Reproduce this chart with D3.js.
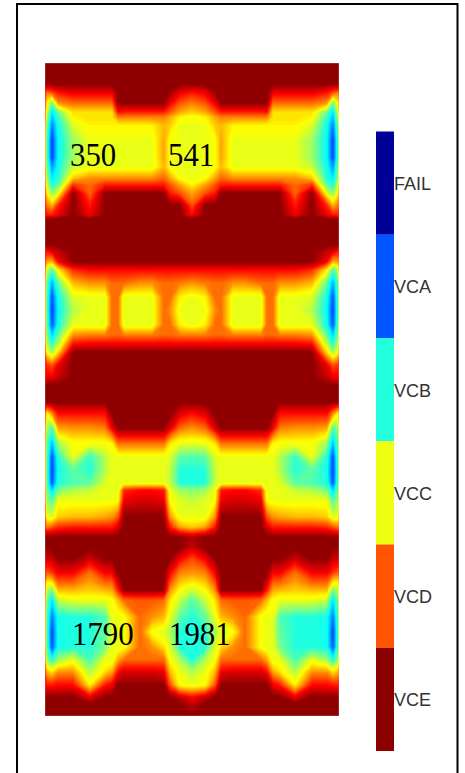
<!DOCTYPE html>
<html><head><meta charset="utf-8">
<style>html,body{margin:0;padding:0;background:#fff}svg{display:block}</style>
<script src="https://cdn.jsdelivr.net/npm/d3@7"></script></head>
<body><div id="chart"></div>
<script>
// Legend categories, top to bottom, and their colours
const categories = ["FAIL","VCA","VCB","VCC","VCD","VCE"];
const categoryColors = ["#000099","#0055ff","#22ffdd","#eeff11","#ff5500","#8b0000"];
// Measurement mesh coordinates
const meshX = [0,2,7,13,28,45,60,67,73,79,95,107,119,125,135,147,160,170,176,188,200,216,222,228,235,250,267,282,288,293,294];
const meshY = [0,21,30,40,49,54,62,77,94,104,115,122,130,142,152,156,182,189,199,207,220,234,247,262,272,280,289,302,314,322,339,350,365,380,394,407,420,427,437,454,464,474,484,495,509,520,527,537,554,569,584,597,609,622,634,641,653];
const labelMeshX = [25,123,27,124];
const labelMeshY = [103,103,582,582];
const labelText = ["350","541","1790","1981"];
// Grid rows on a 0-50 level scale (VCE=0, VCD=10, VCC=20, VCB=30, VCA=40, FAIL=50)
const r00=[0,0,0,0,0,0,0,0,0,0,0,0,0,0,0,0, 0,0,0,0,0,0,0,0,0,0,0,0,0,0,0];
const r01=[0,0,0,0,0,0,0,0,0,0,0,0,0,0,0,0, 0,0,0,0,0,0,0,0,0,0,0,0,0,0,0];
const r02=[5,12,10,7,5,5,5,5,0,0,0,0,0,1,5,7, 5,1,0,0,0,0,0,5,5,5,5,7,10,12,5];
const r03=[6,18,26,13,11,11,11,11,0,0,0,0,0,5,10,12, 10,5,0,0,0,0,0,11,11,11,11,13,26,18,6];
const r04=[7,21,33,26,17,17,17,17,6,7,7,7,7,10,14,16, 14,10,7,7,7,7,6,17,17,17,17,26,33,21,7];
const r05=[7,23,35,29,18,17,17,17,12,12,12,12,12,14,18,19, 18,14,12,12,12,12,12,17,17,17,18,29,35,23,7];
const r06=[7,26,38,31,21,18,18,18,18,18,18,18,15,16,20,20, 20,16,15,18,18,18,18,18,18,18,21,31,38,26,7];
const r07=[7,28,41,32,24,20,20,20,20,20,20,20,14,19,20,20, 20,19,14,20,20,20,20,20,20,20,24,32,41,28,7];
const r08=[7,28,41,32,24,20,20,20,20,20,20,20,14,19,20,20, 20,19,14,20,20,20,20,20,20,20,24,32,41,28,7];
const r09=[7,26,37,31,22,20,20,20,20,20,20,20,15,19,20,20, 20,19,15,20,20,20,20,20,20,20,22,31,37,26,7];
const r10=[7,24,33,30,16,13,13,13,13,13,13,13,11,14,19,20, 19,14,11,13,13,13,13,13,13,13,16,30,33,24,7];
const r11=[7,21,30,27,8,11,7,7,7,7,7,7,7,10,14,18, 14,10,7,7,7,7,7,7,7,11,8,27,30,21,7];
const r12=[6,18,25,20,0,11,0,0,0,0,0,0,0,7,10,14, 10,7,0,0,0,0,0,0,0,11,0,20,25,18,6];
const r13=[5,12,15,8,0,7,0,0,0,0,0,0,0,0,0,10, 0,0,0,0,0,0,0,0,0,7,0,8,15,12,5];
const r14=[4,7,7,5,0,5,0,0,0,0,0,0,0,0,0,6, 0,0,0,0,0,0,0,0,0,5,0,5,7,7,4];
const r15=[0,0,0,0,0,0,0,0,0,0,0,0,0,0,0,0, 0,0,0,0,0,0,0,0,0,0,0,0,0,0,0];
const r16=[0,0,0,0,0,0,0,0,0,0,0,0,0,0,0,0, 0,0,0,0,0,0,0,0,0,0,0,0,0,0,0];
const r17=[5,7,5,3,0,0,0,0,0,0,0,0,0,0,0,0, 0,0,0,0,0,0,0,0,0,0,0,3,5,7,5];
const r18=[6,14,15,6,0,0,0,0,0,0,0,0,0,0,0,0, 0,0,0,0,0,0,0,0,0,0,0,6,15,14,6];
const r19=[7,22,28,18,8,6,6,6,6,6,6,6,6,6,6,6, 6,6,6,6,6,6,6,6,6,6,8,18,28,22,7];
const r20=[7,27,36,27,15,13,13,11,11,11,13,13,11,11,12,13, 12,11,11,13,13,11,11,11,13,13,15,27,36,27,7];
const r21=[7,28,40,31,21,20,20,11,11,20,20,20,11,11,18,20, 18,11,11,20,20,20,11,11,20,20,21,31,40,28,7];
const r22=[7,28,41,32,23,20,20,11,11,20,20,20,11,13,20,20, 20,13,11,20,20,20,11,11,20,20,23,32,41,28,7];
const r23=[7,27,40,31,20,20,20,11,11,20,20,20,11,11,18,20, 18,11,11,20,20,20,11,11,20,20,20,31,40,27,7];
const r24=[7,25,34,27,13,12,12,11,11,12,12,12,11,11,12,12, 12,11,11,12,12,12,11,11,12,12,13,27,34,25,7];
const r25=[7,23,30,23,7,6,6,6,6,6,6,6,6,6,6,6, 6,6,6,6,6,6,6,6,6,6,7,23,30,23,7];
const r26=[7,19,24,17,0,0,0,0,0,0,0,0,0,0,0,0, 0,0,0,0,0,0,0,0,0,0,0,17,24,19,7];
const r27=[6,8,10,5,0,0,0,0,0,0,0,0,0,0,0,0, 0,0,0,0,0,0,0,0,0,0,0,5,10,8,6];
const r28=[5,5,5,3,0,0,0,0,0,0,0,0,0,0,0,0, 0,0,0,0,0,0,0,0,0,0,0,3,5,5,5];
const r29=[0,0,0,0,0,0,0,0,0,0,0,0,0,0,0,0, 0,0,0,0,0,0,0,0,0,0,0,0,0,0,0];
const r30=[0,0,0,0,0,0,0,0,0,0,0,0,0,0,0,0, 0,0,0,0,0,0,0,0,0,0,0,0,0,0,0];
const r31=[7,18,12,6,6,6,6,0,0,0,0,0,0,0,4,6, 4,0,0,0,0,0,0,0,6,6,6,6,12,18,7];
const r32=[7,24,28,14,13,13,12,5,0,0,0,0,0,4,11,13, 11,4,0,0,0,0,0,5,12,13,13,14,28,24,7];
const r33=[7,27,35,24,19,19,19,18,11,11,11,11,11,17,20,20, 20,17,11,11,11,11,11,18,19,19,19,24,35,27,7];
const r34=[7,28,40,30,20,29,23,20,20,20,20,20,20,21,27,28, 27,21,20,20,20,20,20,20,23,29,20,30,40,28,7];
const r35=[7,28,41,31,27,30,23,20,20,20,20,20,20,22,30,30, 30,22,20,20,20,20,20,20,23,30,27,31,41,28,7];
const r36=[7,28,40,30,28,27,21,20,20,20,20,20,20,22,30,30, 30,22,20,20,20,20,20,20,21,27,28,30,40,28,7];
const r37=[7,26,34,26,23,22,20,20,20,8,6,6,7,20,24,25, 24,20,7,6,6,8,20,20,20,22,23,26,34,26,7];
const r38=[7,24,28,20,20,20,20,20,19,5,4,4,5,19,21,22, 21,19,5,4,4,5,19,20,20,20,20,20,28,24,7];
const r39=[7,20,21,16,15,15,14,13,10,0,0,0,0,13,20,20, 20,13,0,0,0,0,10,13,14,15,15,16,21,20,7];
const r40=[6,12,10,8,7,7,7,7,4,0,0,0,0,7,14,16, 14,7,0,0,0,0,4,7,7,7,7,8,10,12,6];
const r41=[0,0,0,0,0,0,0,0,0,0,0,0,0,0,0,2, 0,0,0,0,0,0,0,0,0,0,0,0,0,0,0];
const r42=[0,0,0,0,0,0,0,0,0,0,0,0,0,0,0,3, 0,0,0,0,0,0,0,0,0,0,0,0,0,0,0];
const r43=[3,3,3,0,0,3,0,0,0,0,0,0,0,0,5,9, 5,0,0,0,0,0,0,0,0,3,0,0,3,3,3];
const r44=[6,10,8,5,5,11,5,5,0,0,0,0,0,5,12,13, 12,5,0,0,0,0,0,5,5,11,5,5,8,10,6];
const r45=[7,19,18,11,11,14,11,11,4,0,0,0,0,10,16,18, 16,10,0,0,0,0,4,11,11,14,11,11,18,19,7];
const r46=[7,22,26,15,15,16,15,14,7,0,0,0,0,13,19,22, 19,13,0,0,0,0,7,14,15,16,15,15,26,22,7];
const r47=[7,26,33,22,20,20,20,19,15,11,10,10,11,17,22,27, 22,17,11,10,10,11,15,19,20,20,20,22,33,26,7];
const r48=[7,28,38,31,30,30,28,20,20,19,11,13,15,20,27,30, 27,20,15,13,11,19,20,20,28,30,30,31,38,28,7];
const r49=[7,28,41,31,30,30,27,21,20,19,11,19,21,23,30,30, 30,23,21,19,11,19,20,21,27,30,30,31,41,28,7];
const r50=[7,28,40,31,30,30,26,20,20,19,11,13,17,21,30,30, 30,21,17,13,11,19,20,20,26,30,30,31,40,28,7];
const r51=[7,24,30,24,20,28,20,20,14,11,11,11,11,19,23,30, 23,19,11,11,11,11,14,20,20,28,20,24,30,24,7];
const r52=[6,15,17,13,13,23,17,14,6,4,4,4,5,15,20,23, 20,15,5,4,4,4,6,14,17,23,13,13,17,15,6];
const r53=[5,7,7,6,6,18,7,5,0,0,0,0,0,10,19,20, 19,10,0,0,0,0,0,5,7,18,6,6,7,7,5];
const r54=[0,0,0,0,0,5,0,0,0,0,0,0,0,0,3,6, 3,0,0,0,0,0,0,0,0,5,0,0,0,0,0];
const r55=[0,0,0,0,0,0,0,0,0,0,0,0,0,0,0,3, 0,0,0,0,0,0,0,0,0,0,0,0,0,0,0];
const r56=[0,0,0,0,0,0,0,0,0,0,0,0,0,0,0,0, 0,0,0,0,0,0,0,0,0,0,0,0,0,0,0];
const rows=[r00,r01,r02,r03,r04,r05,r06,r07,r08,r09,r10,r11,r12,r13,r14,r15,r16,r17,r18,r19,r20,r21,r22,r23,r24,r25,r26,r27,r28,r29,r30,r31,r32,r33,r34,r35,r36,r37,r38,r39,r40,r41,r42,r43,r44,r45,r46,r47,r48,r49,r50,r51,r52,r53,r54,r55,r56];

const W=465,H=773;
const plot={l:45,r:339,t:63,b:716};
const x=d3.scaleLinear().domain([0,294]).range([plot.l,plot.r]);
const y=d3.scaleLinear().domain([0,653]).range([plot.t,plot.b]);
// jet-like colour ramp through the six category colours
const color=d3.scaleLinear()
  .domain([0,5.8,10,18.5,20,30,32,40,44,50])
  .range(["#8b0000","#ff0000","#ff5500","#ffff00","#eeff11","#22ffdd","#00ffff","#0055ff","#0000ff","#000099"])
  .interpolate(d3.interpolateRgb).clamp(true);

const svg=d3.select("#chart").append("svg").attr("width",W).attr("height",H);
// frame
svg.append("path").attr("d",d3.line()([[17,H],[17,4],[457.5,4],[457.5,H]]))
  .attr("fill","none").attr("stroke","#000").attr("stroke-width",2);

// filled contours, mapped back through the mesh coordinates
const nx=meshX.length,ny=meshY.length;
const flat=rows.flat();
const thresholds=d3.range(0,50.01,0.5);
const contours=d3.contours().size([nx,ny]).thresholds(thresholds).smooth(true)(flat);
const ix=d3.scaleLinear().domain(meshX.map((_,i)=>i+0.5)).range(meshX.map(v=>x(v))).clamp(true);
const iy=d3.scaleLinear().domain(meshY.map((_,i)=>i+0.5)).range(meshY.map(v=>y(v))).clamp(true);
const path=d3.geoPath(d3.geoTransform({point(a,b){this.stream.point(ix(a),iy(b));}}));
const clipId="plotclip";
svg.append("clipPath").attr("id",clipId).append("rect")
  .attr("x",plot.l).attr("y",plot.t).attr("width",plot.r-plot.l).attr("height",plot.b-plot.t);
svg.append("g").attr("clip-path",`url(#${clipId})`)
  .selectAll("path").data(contours).join("path")
  .attr("d",path).attr("fill",d=>color(d.value+0.25)).attr("stroke","none");
// soft pale rim of the plot
svg.append("rect").attr("x",plot.l).attr("y",plot.t).attr("width",plot.r-plot.l).attr("height",plot.b-plot.t)
  .attr("fill","none").attr("stroke","#fff").attr("stroke-opacity",0.3);

// value labels
const labelWidth=d=>d.length*15.4;
svg.append("g").selectAll("text").data(labelText).join("text")
  .attr("x",(d,i)=>x(labelMeshX[i])).attr("y",(d,i)=>y(labelMeshY[i]))
  .attr("font-family","'Liberation Serif',serif").attr("font-size",33).attr("fill","#000")
  .attr("textLength",labelWidth).attr("lengthAdjust","spacingAndGlyphs")
  .text(d=>d);

// legend
const ly=d3.scaleBand().domain(categories).range([131.5,751]);
const leg=svg.append("g");
leg.selectAll("rect").data(categories).join("rect")
  .attr("x",376).attr("width",18).attr("y",d=>ly(d)).attr("height",ly.bandwidth())
  .attr("fill",(d,i)=>categoryColors[i]);
leg.selectAll("text").data(categories).join("text")
  .attr("x",394).attr("y",d=>ly(d)+ly.bandwidth()/2+7)
  .attr("font-family","'Liberation Sans',sans-serif").attr("font-size",18).attr("fill","#333")
  .text(d=>d);
</script></body></html>
